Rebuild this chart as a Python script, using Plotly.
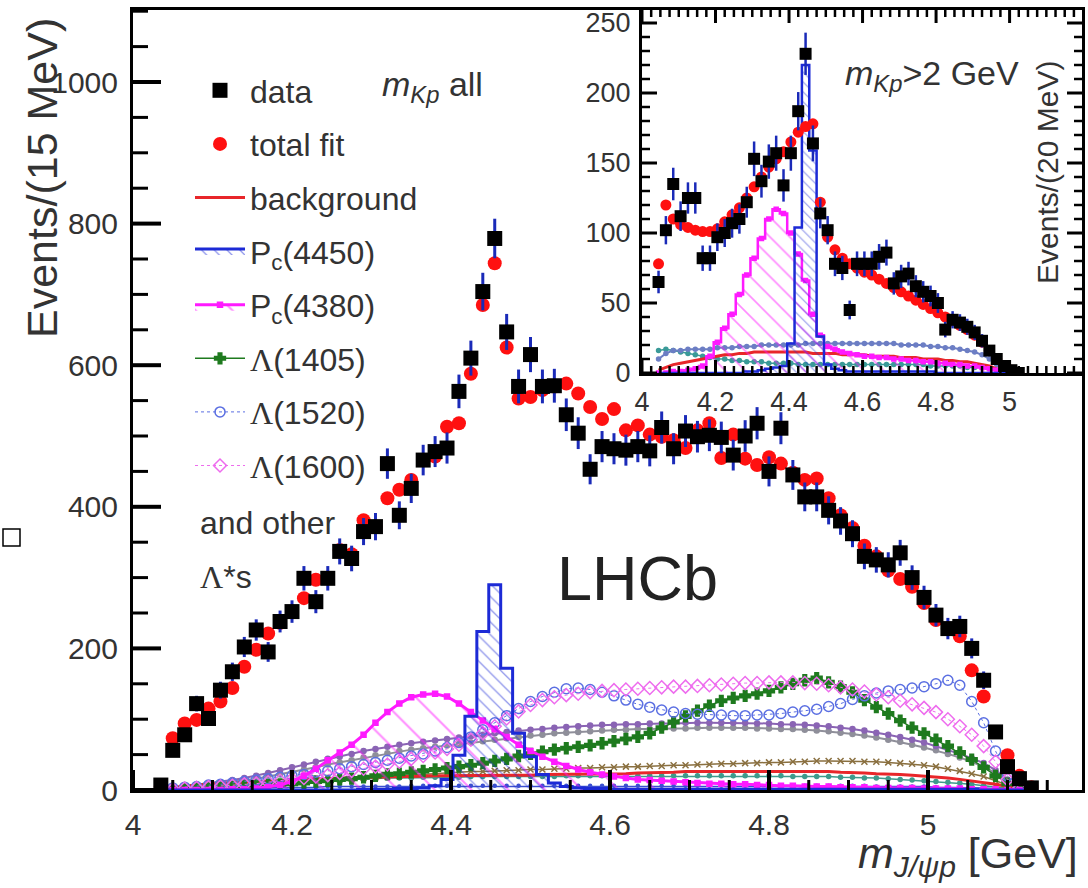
import numpy as np
import plotly.graph_objects as go

# ---------------- main panel (15 MeV bins) ----------------
data_main = [
    7, 56, 78, 122, 101, 141, 167, 202, 226, 195,
    238, 252, 299, 266, 299, 337, 327, 365, 372, 461,
    388, 426, 466, 478, 483, 563, 610, 704, 779, 647,
    570, 615, 570, 571, 530, 504, 453, 485, 482, 480,
    485, 479, 512, 482, 507, 499, 501, 498, 473, 500,
    518, 450, 511, 445, 414, 414, 395, 380, 362, 330,
    325, 318, 335, 300, 272, 247, 228, 231, 200, 155,
    82, 33, 16, 3]
fit_main = [
    5, 73, 94, 99, 115, 125, 144, 174, 198, 221,
    236, 252, 271, 297, 299, 339, 333, 381, 372, 412,
    424, 438, 466, 471, 513, 518, 588, 685, 744, 625,
    553, 555, 565, 570, 574, 560, 541, 524, 538, 508,
    515, 502, 499, 494, 483, 508, 518, 469, 502, 468,
    459, 470, 461, 448, 438, 440, 412, 388, 370, 345,
    330, 310, 298, 287, 264, 240, 228, 217, 169, 132,
    82, 49, 20, 4]
pc4450_main = [
    0, 0, 0, 0, 0, 0, 0, 0, 0, 0,
    0, 0, 0, 0, 0, 0, 0, 1, 1, 1,
    2, 2, 3, 6, 15, 49, 104, 224, 290, 172,
    80, 47, 22, 10, 5, 3, 2, 2, 1, 1,
    1, 1, 1, 1, 1, 1, 1, 1, 1, 1,
    1, 1, 1, 1, 1, 1, 1, 1, 1, 1,
    1, 1, 1, 1, 1, 1, 1, 1, 1, 0,
    0, 0, 0, 0]
pc4380_main = [
    0, 0, 0, 0, 0, 0, 1, 1, 2, 4,
    7, 12, 20, 30, 42, 53, 64, 78, 95, 110,
    122, 131, 135, 136, 132, 122, 110, 98, 86, 75,
    64, 55, 47, 40, 34, 29, 25, 22, 19, 17,
    15, 14, 13, 12, 11, 10, 9, 9, 8, 8,
    7, 7, 6, 6, 5, 5, 5, 4, 4, 4,
    3, 3, 3, 3, 2, 2, 2, 2, 1, 1,
    1, 0, 0, 0]
l1405_main = [
    0, 1, 1, 2, 2, 3, 4, 5, 6, 7,
    8, 9, 10, 12, 13, 15, 16, 18, 20, 22,
    23, 25, 27, 29, 31, 33, 35, 38, 41, 44,
    48, 51, 54, 57, 59, 61, 63, 66, 69, 72,
    75, 80, 88, 96, 104, 112, 119, 126, 130, 133,
    136, 140, 145, 150, 155, 158, 152, 146, 138, 127,
    117, 108, 98, 88, 80, 71, 62, 53, 43, 32,
    20, 9, 2, 0]
l1520_main = [
    2, 3, 4, 5, 7, 8, 10, 12, 14, 16,
    18, 20, 22, 25, 27, 30, 33, 36, 39, 42,
    45, 48, 51, 55, 60, 67, 75, 85, 95, 105,
    115, 125, 132, 138, 143, 144, 142, 138, 133, 127,
    121, 117, 113, 110, 108, 107, 106, 106, 105, 105,
    106, 106, 108, 110, 112, 114, 118, 122, 128, 133,
    137, 140, 142, 144, 146, 150, 155, 148, 125, 95,
    55, 20, 3, 0]
l1600_main = [
    0, 1, 2, 3, 4, 5, 6, 8, 9, 11,
    13, 15, 17, 19, 21, 24, 27, 30, 33, 36,
    40, 44, 48, 53, 58, 64, 71, 80, 90, 101,
    111, 120, 127, 131, 134, 136, 138, 140, 141, 142,
    143, 144, 145, 146, 146, 147, 148, 149, 150, 151,
    151, 152, 152, 152, 151, 150, 148, 145, 142, 139,
    135, 131, 126, 121, 116, 110, 100, 90, 78, 62,
    40, 15, 3, 0]
other_a_main = [
    1, 3, 5, 7, 9, 11, 14, 17, 20, 24,
    28, 32, 36, 40, 44, 47, 51, 55, 58, 61,
    64, 66, 68, 70, 72, 74, 76, 78, 80, 82,
    84, 85, 86, 88, 89, 90, 91, 92, 92, 93,
    93, 94, 94, 94, 95, 95, 95, 95, 95, 95,
    94, 94, 93, 93, 92, 91, 90, 88, 86, 84,
    81, 78, 75, 71, 67, 62, 57, 51, 45, 38,
    28, 15, 4, 0]
other_b_main = [
    1, 2, 4, 5, 7, 9, 11, 13, 16, 19,
    22, 25, 29, 32, 36, 39, 42, 46, 49, 52,
    55, 57, 59, 61, 63, 65, 67, 69, 71, 73,
    75, 77, 78, 80, 81, 82, 83, 84, 85, 85,
    86, 86, 87, 87, 87, 88, 88, 88, 88, 88,
    87, 87, 86, 86, 85, 84, 83, 81, 79, 77,
    74, 71, 68, 64, 60, 56, 51, 46, 40, 33,
    24, 13, 3, 0]
other_c_main = [
    0, 1, 2, 3, 4, 5, 6, 7, 8, 9,
    10, 11, 12, 13, 14, 15, 16, 17, 18, 19,
    20, 21, 22, 23, 24, 25, 26, 26, 27, 28,
    28, 29, 29, 30, 30, 31, 31, 32, 32, 33,
    33, 34, 34, 35, 35, 36, 36, 37, 37, 38,
    38, 39, 39, 40, 40, 41, 41, 41, 41, 40,
    40, 39, 38, 37, 35, 33, 30, 27, 23, 19,
    13, 6, 1, 0]
other_d_main = [
    1, 2, 3, 4, 5, 6, 7, 8, 9, 10,
    11, 12, 13, 13, 14, 15, 15, 16, 16, 17,
    17, 17, 18, 18, 18, 18, 19, 19, 19, 19,
    19, 19, 19, 19, 20, 20, 20, 20, 20, 20,
    20, 20, 20, 20, 20, 20, 20, 20, 20, 20,
    20, 20, 20, 19, 19, 19, 19, 18, 18, 17,
    17, 16, 15, 14, 13, 12, 11, 10, 8, 6,
    4, 2, 1, 0]
other_e_main = [
    1, 1, 2, 2, 2, 3, 3, 3, 3, 4,
    4, 4, 4, 4, 5, 5, 5, 5, 5, 5,
    5, 6, 6, 6, 6, 6, 6, 6, 6, 6,
    6, 6, 6, 6, 6, 6, 6, 6, 6, 6,
    6, 6, 6, 6, 6, 6, 6, 6, 6, 6,
    6, 6, 6, 6, 6, 6, 6, 6, 6, 6,
    5, 5, 5, 5, 5, 4, 4, 4, 3, 3,
    2, 1, 1, 0]
bkg_main = [
    2, 4, 6, 7, 8, 9, 10, 11, 12, 13,
    14, 15, 15, 16, 16, 17, 17, 18, 18, 19,
    19, 19, 20, 20, 20, 20, 21, 21, 21, 21,
    21, 21, 22, 22, 22, 22, 22, 22, 22, 23,
    24, 24, 25, 25, 26, 26, 26, 26, 27, 27,
    27, 27, 27, 27, 27, 26, 26, 25, 25, 24,
    23, 23, 22, 21, 20, 19, 17, 15, 13, 11,
    8, 5, 2, 0]

# ---------------- inset (m_Kp > 2 GeV, 20 MeV bins) ----------------
data_in = [
    65, 102, 135, 112, 125, 125, 82, 82, 97, 100,
    107, 110, 122, 153, 137, 151, 157, 134, 157, 187,
    228, 164, 114, 102, 78, 75, 45, 78, 78, 78,
    83, 86, 64, 69, 71, 62, 58, 55, 50, 31,
    38, 36, 33, 29, 23, 16, 10, 5, 2, 0]
fit_in = [
    78, 120, 110, 106, 104, 102, 101, 101, 103, 108,
    113, 118, 125, 133, 140, 147, 153, 158, 165, 172,
    176, 178, 122, 97, 88, 82, 78, 75, 72, 70,
    67, 64, 61, 58, 55, 52, 49, 46, 43, 40,
    37, 34, 31, 27, 22, 16, 10, 5, 2, 0]
pc4450_in = [
    0, 0, 0, 0, 0, 0, 0, 0, 0, 0,
    0, 0, 1, 1, 2, 3, 4, 5, 21, 104,
    220, 159, 26, 6, 3, 2, 1, 1, 1, 1,
    1, 1, 1, 1, 1, 1, 1, 1, 0, 0,
    0, 0, 0, 0, 0, 0, 0, 0, 0, 0]
pc4380_in = [
    0, 0, 1, 1, 2, 3, 5, 12, 22, 32,
    42, 56, 70, 82, 96, 110, 117, 114, 100, 85,
    66, 42, 27, 19, 17, 15, 14, 13, 12, 12,
    11, 11, 10, 10, 9, 9, 8, 8, 7, 7,
    6, 6, 5, 5, 4, 3, 2, 1, 0, 0]
other_in = [
    10, 14, 16, 16, 17, 17, 17, 17, 18, 18,
    18, 19, 19, 19, 20, 20, 20, 20, 20, 20,
    21, 21, 21, 21, 21, 21, 21, 21, 21, 21,
    21, 21, 21, 20, 20, 20, 20, 19, 19, 18,
    18, 17, 16, 15, 13, 10, 6, 2, 0, 0]
teal_in = [
    16, 17, 16, 15, 14, 13, 12, 11, 10, 10,
    9, 9, 8, 8, 8, 7, 7, 7, 7, 6,
    6, 6, 6, 6, 6, 6, 6, 6, 6, 6,
    6, 6, 6, 6, 6, 6, 6, 5, 5, 5,
    5, 5, 4, 4, 4, 3, 2, 1, 0, 0]
bkg_in = [
    2, 4, 6, 7, 8, 9, 10, 11, 12, 13,
    13, 14, 14, 15, 15, 15, 15, 15, 15, 15,
    15, 14, 14, 14, 14, 13, 13, 13, 13, 12,
    12, 12, 12, 11, 11, 11, 10, 10, 10, 9,
    9, 8, 8, 7, 6, 5, 3, 1, 0, 0]

main_m = np.round(4.035 + 0.015 * np.arange(len(data_main)), 4)
in_m = np.round(4.045 + 0.020 * np.arange(len(data_in)), 4)

FONT = "Liberation Sans, Arial, sans-serif"
SERIF_L = '<span style="font-family:Liberation Serif">\u039b</span>'
W, H = 1088, 888
L, R, T, B = 133, 6, 10, 98
PW, PH = W - L - R, H - T - B
X_SCALE = 795.0                     # px per GeV (main)
Y_SCALE = 0.708                     # px per event (main)
XR_MAIN = [4.0, 4.0 + PW / X_SCALE]
YR_MAIN = [0, PH / Y_SCALE]
IN_X0, IN_Y0 = 642, 373            # inset frame left / bottom (pixels)
IN_W, IN_H = W - R - IN_X0, IN_Y0 - T
XR_IN = [4.0, 5.197]
YR_IN = [0, IN_H / 1.4]
XS_IN = IN_W / (XR_IN[1] - XR_IN[0])
YS_IN = IN_H / YR_IN[1]


def px(x):
    return (x - L) / PW


def py(y):
    return (H - B - y) / PH


fig = go.Figure()


def comp(x, y, name, color, xa="x", ya="y", symbol="circle", msize=4, lw=1.5,
         dash="solid", show=False, rank=100, mode="lines+markers", **kw):
    fig.add_trace(go.Scatter(
        x=x, y=y, name=name, mode=mode, xaxis=xa, yaxis=ya,
        line=dict(color=color, width=lw, dash=dash),
        marker=dict(symbol=symbol, size=msize, color=color, line=dict(color=color, width=1.5)),
        showlegend=show, legendgroup=name, legendrank=rank, hoverinfo="skip", **kw))


# main components
comp(main_m, other_e_main, "other e", "#3b4fd0", msize=3)
comp(main_m, other_d_main, "other d", "#3e9a8c", msize=4)
comp(main_m, other_c_main, "other c", "#8a7040", symbol="x-thin", msize=6)
comp(main_m, other_b_main, "other b", "#8f8f9a", msize=5, lw=2)
comp(main_m, other_a_main, "other a", "#8a64b4", msize=5, lw=2)
comp(main_m, bkg_main, "background", "#e8262a", mode="lines", lw=3, show=True, rank=3)
comp(main_m, l1405_main, SERIF_L + "(1405)", "#1e7a1e", symbol="cross", msize=9, lw=1.5,
     show=True, rank=6)
comp(main_m, l1520_main, SERIF_L + "(1520)", "#5b6fe2", symbol="circle-open", msize=10, lw=1,
     dash="dot", show=True, rank=7)
comp(main_m, l1600_main, SERIF_L + "(1600)", "#ee6cee", symbol="diamond-open", msize=10, lw=1,
     dash="dot", show=True, rank=8)
comp(main_m, pc4380_main, "P<sub>c</sub>(4380)", "#ff1aff", symbol="square", msize=5, lw=3,
     show=True, rank=5, fill="tozeroy", fillcolor="rgba(0,0,0,0)",
     fillpattern=dict(shape="\\", fgcolor="#ff1aff", bgcolor="rgba(0,0,0,0)",
                      size=26, solidity=0.08, fillmode="overlay"))
comp(main_m, pc4450_main, "P<sub>c</sub>(4450)", "#1c2ad6", mode="lines", lw=3,
     show=True, rank=4, fill="tozeroy", fillcolor="rgba(0,0,0,0)", line_shape="hvh",
     fillpattern=dict(shape="\\", fgcolor="#1c2ad6", bgcolor="rgba(0,0,0,0)",
                      size=9, solidity=0.14, fillmode="overlay"))
fig.add_trace(go.Scatter(
    x=main_m, y=fit_main, name="total fit", mode="markers",
    marker=dict(symbol="circle", size=14, color="#ff1010"),
    legendgroup="fit", legendrank=2, hoverinfo="skip"))
fig.add_trace(go.Scatter(
    x=main_m, y=data_main, name="data", mode="markers",
    marker=dict(symbol="square", size=15, color="black"),
    error_y=dict(type="data", array=np.sqrt(data_main), color="#1a2ab8",
                 thickness=3, width=0),
    legendgroup="data", legendrank=1, hoverinfo="skip"))

# inset components
comp(in_m, teal_in, "teal in", "#3a9a98", xa="x2", ya="y2", msize=4)
comp(in_m, other_in, "other in", "#6c7ec4", xa="x2", ya="y2", msize=4, lw=2)
comp(in_m, bkg_in, "bkg in", "#e8262a", xa="x2", ya="y2", mode="lines", lw=3)
comp(in_m, pc4380_in, "pc4380 in", "#ff1aff", xa="x2", ya="y2", symbol="square", msize=4,
     lw=2.5, fill="tozeroy", fillcolor="rgba(0,0,0,0)", line_shape="hvh",
     fillpattern=dict(shape="\\", fgcolor="#ff1aff", bgcolor="rgba(0,0,0,0)",
                      size=14, solidity=0.12, fillmode="overlay"))
comp(in_m, pc4450_in, "pc4450 in", "#1c2ad6", xa="x2", ya="y2", mode="lines", lw=2.5,
     fill="tozeroy", fillcolor="rgba(0,0,0,0)", line_shape="hvh",
     fillpattern=dict(shape="\\", fgcolor="#1c2ad6", bgcolor="rgba(0,0,0,0)",
                      size=7, solidity=0.15, fillmode="overlay"))
fig.add_trace(go.Scatter(
    x=in_m, y=fit_in, mode="markers", xaxis="x2", yaxis="y2", showlegend=False,
    marker=dict(symbol="circle", size=11, color="#ff1010"), hoverinfo="skip"))
fig.add_trace(go.Scatter(
    x=in_m, y=data_in, mode="markers", xaxis="x2", yaxis="y2", showlegend=False,
    marker=dict(symbol="square", size=12, color="black"),
    error_y=dict(type="data", array=np.sqrt(data_in), color="#1a2ab8", thickness=2.5, width=0),
    hoverinfo="skip"))


# ---- ROOT-style inside tick marks, built from the axes' tick steps ----
def tick_segments(xa, ya, segs, width):
    xs, ys = [], []
    for (x0, x1, y0, y1) in segs:
        xs += [float(x0), float(x1), None]
        ys += [float(y0), float(y1), None]
    fig.add_trace(go.Scatter(x=xs, y=ys, mode="lines", xaxis=xa, yaxis=ya,
                             line=dict(color="black", width=width), showlegend=False,
                             hoverinfo="skip", connectgaps=False))


maj, mnr = [], []
for v in np.arange(0, YR_MAIN[1], 50):
    big = int(round(v)) % 200 == 0
    ln = (28 if big else 15) / X_SCALE
    (maj if big else mnr).append((XR_MAIN[0], XR_MAIN[0] + ln, v, v))
for m in np.arange(4.0, XR_MAIN[1], 0.05):
    big = abs(m / 0.2 - round(m / 0.2)) < 1e-6
    ln = (20 if big else 10) / Y_SCALE
    (maj if big else mnr).append((m, m, 0, ln))
tick_segments("x", "y", maj, 4)
tick_segments("x", "y", mnr, 3)

maj, mnr = [], []
for v in np.arange(0, YR_IN[1], 10):
    big = int(round(v)) % 50 == 0
    ln = (15 if big else 8) / XS_IN
    (maj if big else mnr).append((XR_IN[0], XR_IN[0] + ln, v, v))
    (maj if big else mnr).append((XR_IN[1] - ln, XR_IN[1], v, v))
for m in np.arange(4.0, XR_IN[1], 0.025):
    big = abs(m / 0.2 - round(m / 0.2)) < 1e-6
    ln = (13 if big else 7) / YS_IN
    (maj if big else mnr).append((m, m, 0, ln))
    (maj if big else mnr).append((m, m, YR_IN[1] - ln, YR_IN[1]))
tick_segments("x2", "y2", maj, 3)
tick_segments("x2", "y2", mnr, 2.5)

TICKFONT = dict(family=FONT, size=30, color="#333333")
TICKFONT_IN = dict(family=FONT, size=27, color="#333333")
AX = dict(showline=True, linecolor="black", linewidth=3, showgrid=False, zeroline=False,
          ticks="", tickmode="linear")

fig.update_layout(
    template="none",
    width=W, height=H,
    margin=dict(l=L, r=R, t=T, b=B),
    paper_bgcolor="white", plot_bgcolor="white",
    font=dict(family=FONT, color="#333333"),
    xaxis=dict(range=XR_MAIN, dtick=0.2, tick0=4.0, mirror=True, tickfont=TICKFONT,
               ticklabelstandoff=6, **AX),
    yaxis=dict(range=YR_MAIN, dtick=200, tick0=0, mirror=True, tickfont=TICKFONT,
               ticklabelstandoff=6, **AX),
    xaxis2=dict(domain=[px(IN_X0), 1.0], anchor="y2", range=XR_IN, dtick=0.2, tick0=4.0,
                mirror=True, tickfont=TICKFONT_IN, ticklabelstandoff=3, **AX),
    yaxis2=dict(domain=[py(IN_Y0), 1.0], anchor="x2", range=YR_IN, dtick=50, tick0=0,
                mirror=True, tickfont=TICKFONT_IN, ticklabelstandoff=3, **AX),
    legend=dict(x=px(190), y=py(63), xanchor="left", yanchor="top",
                font=dict(family=FONT, size=32, color="#333333"),
                bgcolor="rgba(0,0,0,0)", traceorder="grouped", tracegroupgap=9,
                itemwidth=50),
    showlegend=True,
)

fig.add_shape(type="rect", xref="paper", yref="paper", x0=px(3), x1=px(20), y0=py(546),
              y1=py(529), line=dict(color="black", width=1.5), fillcolor="white")

ann = [
    dict(x=px(42), y=py(178), text="Events/(15 MeV)", textangle=-90, font=dict(size=43),
         xanchor="center", yanchor="middle"),
    dict(x=px(1080), y=py(856), text="<i>m</i><sub><i>J/\u03c8p</i></sub> [GeV]",
         font=dict(size=43), xanchor="right", yanchor="middle"),
    dict(x=px(555), y=py(578), text="LHCb", font=dict(size=63, color="#222222"),
         xanchor="left", yanchor="middle"),
    dict(x=px(380), y=py(87), text="<i>m</i><sub><i>Kp</i></sub> all", font=dict(size=34),
         xanchor="left", yanchor="middle"),
    dict(x=px(843), y=py(75), text="<i>m</i><sub><i>Kp</i></sub>>2 GeV", font=dict(size=34),
         xanchor="left", yanchor="middle"),
    dict(x=px(1047), y=py(173), text="Events/(20 MeV)", textangle=-90, font=dict(size=30),
         xanchor="center", yanchor="middle"),
    dict(x=px(198), y=py(523), text="and other", font=dict(size=32), xanchor="left",
         yanchor="middle"),
    dict(x=px(198), y=py(577), text=SERIF_L + "*s", font=dict(size=32), xanchor="left",
         yanchor="middle"),
]
for a in ann:
    a.update(xref="paper", yref="paper", showarrow=False)
    f = dict(family=FONT, color="#333333")
    f.update(a["font"])
    a["font"] = f
fig.update_layout(annotations=ann)

fig.write_html("out.html")
